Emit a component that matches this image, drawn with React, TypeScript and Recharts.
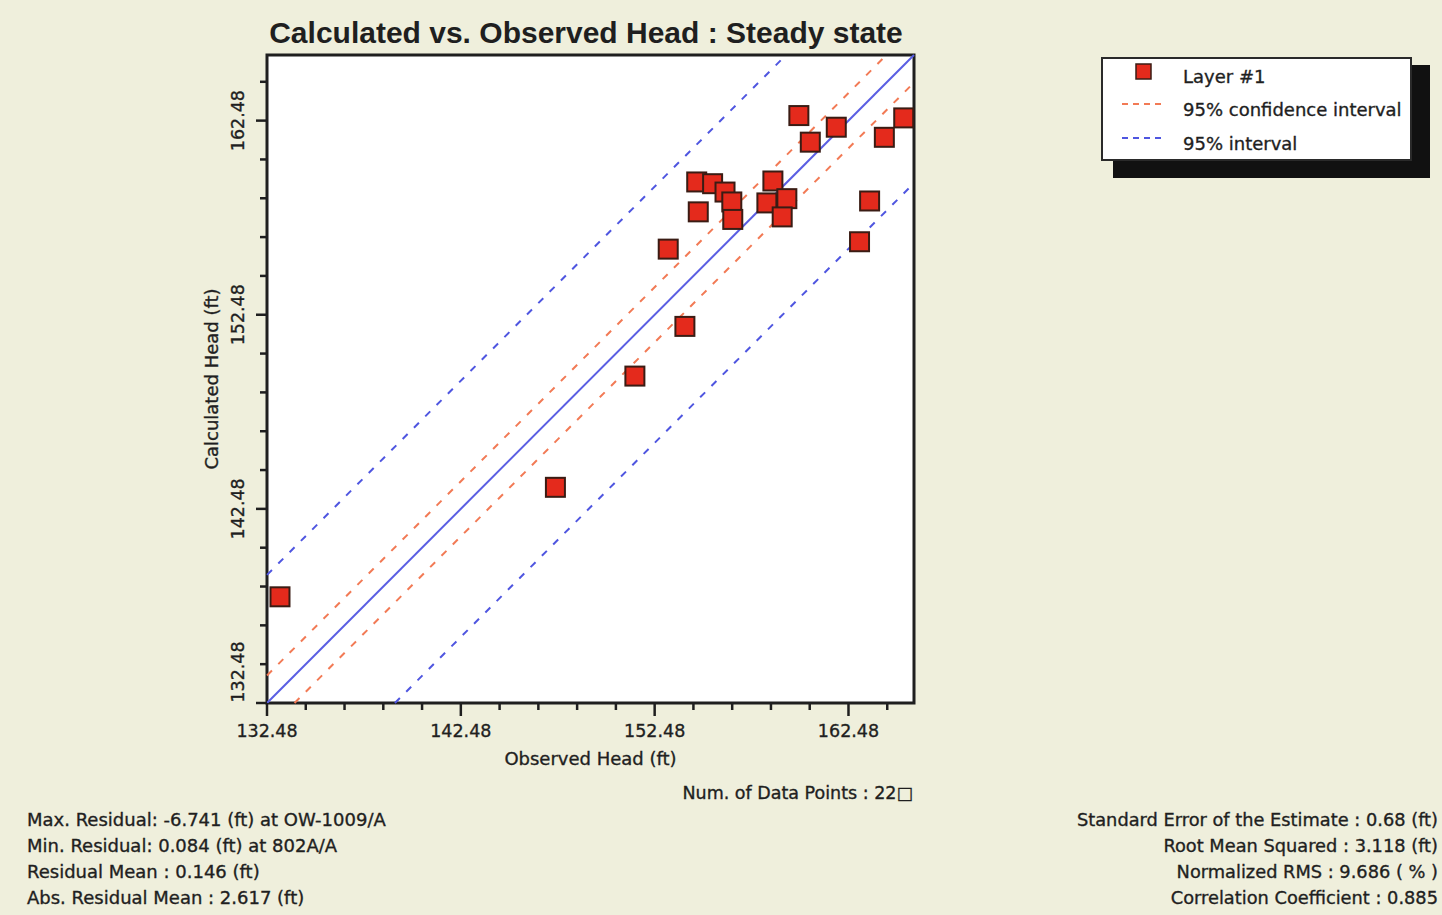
import React from 'react';
import { ScatterChart, Scatter, XAxis, YAxis, ReferenceLine, ReferenceArea } from 'recharts';

const AXIS_MIN = 132.48;
const AXIS_MAX = 165.86;
const AXIS_TICKS = [132.48, 134.48, 136.48, 138.48, 140.48, 142.48, 144.48, 146.48, 148.48, 150.48, 152.48, 154.48, 156.48, 158.48, 160.48, 162.48, 164.48];
const MAJOR_TICKS = [132.48, 142.48, 152.48, 162.48];

const observedHead = [133.15, 147.36, 151.46, 154.04, 153.18, 154.65, 154.73, 155.47, 156.11, 156.46, 156.51, 158.27, 158.58, 159.30, 159.06, 159.92, 160.51, 161.85, 163.05, 163.57, 164.33, 165.33];
const calculatedHead = [137.95, 143.59, 149.32, 151.88, 155.86, 159.32, 157.78, 159.23, 158.80, 158.29, 157.39, 158.24, 159.37, 158.46, 157.52, 162.74, 161.37, 162.14, 156.24, 158.34, 161.62, 162.62];

const CONFIDENCE_HALF_WIDTH = 1.42;
const INTERVAL_HALF_WIDTH = 6.6;

const TITLE = 'Calculated vs. Observed Head : Steady state';
const X_TITLE = 'Observed Head (ft)';
const Y_TITLE = 'Calculated Head (ft)';
const SERIES_NAME = 'Layer #1';
const CONF_NAME = '95% confidence interval';
const INTERVAL_NAME = '95% interval';
const NUM_POINTS_TEXT = 'Num. of Data Points : 22\u25A1';
const LEFT_STATS = [
  'Max. Residual: -6.741 (ft) at OW-1009/A',
  'Min. Residual: 0.084 (ft) at 802A/A',
  'Residual Mean : 0.146 (ft)',
  'Abs. Residual Mean : 2.617 (ft)',
];
const RIGHT_STATS = [
  'Standard Error of the Estimate : 0.68 (ft)',
  'Root Mean Squared : 3.118 (ft)',
  'Normalized RMS : 9.686 ( % )',
  'Correlation Coefficient : 0.885',
];

const BG = '#efefdc';
const INK = '#1f1f1f';
const MARKER_FILL = '#e42a1c';
const MARKER_STROKE = '#3a1c14';
const LINE_BLUE = '#5a5ee3';
const DASH_BLUE = '#4f56e0';
const DASH_RED = '#f27a55';
const SMALL_FONT = '"DejaVu Sans", sans-serif';
const TITLE_FONT = '"Liberation Sans", Arial, sans-serif';
const TEXT_WEIGHT = { stroke: INK, strokeWidth: 0.35 };

const data = observedHead.map((o, i) => ({ observed: o, calculated: calculatedHead[i] }));

const isMajor = (v: number) => MAJOR_TICKS.some((m) => Math.abs(m - v) < 1e-6);

const XTick = (props: any) => {
  const { x, y, payload } = props;
  const major = isMajor(payload.value);
  return (
    <g>
      <line x1={x} x2={x} y1={y} y2={y + (major ? 13 : 7)} stroke={INK} strokeWidth={2.5} />
      {major && (
        <text x={x} y={y + 28} textAnchor="middle" dominantBaseline="central" fontFamily={SMALL_FONT} fontSize={17.5} fill={INK} {...TEXT_WEIGHT}>
          {payload.value.toFixed(2)}
        </text>
      )}
    </g>
  );
};

const YTick = (props: any) => {
  const { x, y, payload, index } = props;
  const major = isMajor(payload.value);
  const ly = index === 0 ? y - 31 : y;
  const lx = x - 29;
  return (
    <g>
      <line x1={x - (major ? 11 : 7)} x2={x} y1={y} y2={y} stroke={INK} strokeWidth={2.5} />
      {major && (
        <text
          x={lx}
          y={ly}
          transform={`rotate(-90, ${lx}, ${ly})`}
          textAnchor="middle"
          dominantBaseline="central"
          fontFamily={SMALL_FONT}
          fontSize={17.5}
          fill={INK}
          {...TEXT_WEIGHT}
        >
          {payload.value.toFixed(2)}
        </text>
      )}
    </g>
  );
};

const SquareMarker = (props: any) => {
  const { cx, cy } = props;
  return <rect x={cx - 9.5} y={cy - 9.5} width={19} height={19} fill={MARKER_FILL} stroke={MARKER_STROKE} strokeWidth={2} />;
};

const XTitle = (props: any) => {
  const vb = props.viewBox || {};
  return (
    <text x={vb.x + vb.width / 2} y={vb.y + 55} textAnchor="middle" dominantBaseline="central" fontFamily={SMALL_FONT} fontSize={18} fill={INK} {...TEXT_WEIGHT}>
      {X_TITLE}
    </text>
  );
};

const YTitle = (props: any) => {
  const vb = props.viewBox || {};
  const cx = 211;
  const cy = vb.y + vb.height / 2;
  return (
    <text x={cx} y={cy} transform={`rotate(-90, ${cx}, ${cy})`} textAnchor="middle" dominantBaseline="central" fontFamily={SMALL_FONT} fontSize={18} fill={INK} {...TEXT_WEIGHT}>
      {Y_TITLE}
    </text>
  );
};

export default function App() {
  return (
    <div style={{ position: 'absolute', left: 0, top: 0, width: 1442, height: 915, background: BG, overflow: 'hidden' }}>
      <ScatterChart width={1442} height={915} margin={{ top: 55, right: 528, bottom: 0, left: 0 }}>
        <ReferenceArea
          x1={AXIS_MIN}
          x2={AXIS_MAX}
          y1={AXIS_MIN}
          y2={AXIS_MAX}
          fill="#ffffff"
          fillOpacity={1}
          stroke={INK}
          strokeWidth={3}
          ifOverflow="extendDomain"
        />
        <XAxis
          type="number"
          dataKey="observed"
          domain={[AXIS_MIN, AXIS_MAX]}
          ticks={AXIS_TICKS}
          interval={0}
          allowDataOverflow
          height={212}
          axisLine={false}
          tickLine={false}
          tickSize={0}
          tickMargin={0}
          tick={<XTick />}
          label={<XTitle />}
        />
        <YAxis
          type="number"
          dataKey="calculated"
          domain={[AXIS_MIN, AXIS_MAX]}
          ticks={AXIS_TICKS}
          interval={0}
          allowDataOverflow
          width={267}
          axisLine={false}
          tickLine={false}
          tickSize={0}
          tickMargin={0}
          tick={<YTick />}
          label={<YTitle />}
        />
        <ReferenceLine
          segment={[{ x: AXIS_MIN, y: AXIS_MIN + INTERVAL_HALF_WIDTH }, { x: AXIS_MAX - INTERVAL_HALF_WIDTH, y: AXIS_MAX }]}
          stroke={DASH_BLUE}
          strokeWidth={2}
          strokeDasharray="7 9"
        />
        <ReferenceLine
          segment={[{ x: AXIS_MIN + INTERVAL_HALF_WIDTH, y: AXIS_MIN }, { x: AXIS_MAX, y: AXIS_MAX - INTERVAL_HALF_WIDTH }]}
          stroke={DASH_BLUE}
          strokeWidth={2}
          strokeDasharray="7 9"
        />
        <ReferenceLine
          segment={[{ x: AXIS_MIN, y: AXIS_MIN + CONFIDENCE_HALF_WIDTH }, { x: AXIS_MAX - CONFIDENCE_HALF_WIDTH, y: AXIS_MAX }]}
          stroke={DASH_RED}
          strokeWidth={2}
          strokeDasharray="7 9"
        />
        <ReferenceLine
          segment={[{ x: AXIS_MIN + CONFIDENCE_HALF_WIDTH, y: AXIS_MIN }, { x: AXIS_MAX, y: AXIS_MAX - CONFIDENCE_HALF_WIDTH }]}
          stroke={DASH_RED}
          strokeWidth={2}
          strokeDasharray="7 9"
        />
        <ReferenceLine
          segment={[{ x: AXIS_MIN, y: AXIS_MIN }, { x: AXIS_MAX, y: AXIS_MAX }]}
          stroke={LINE_BLUE}
          strokeWidth={2}
        />
        <Scatter name={SERIES_NAME} data={data} shape={<SquareMarker />} isAnimationActive={false} />
      </ScatterChart>

      <svg width={1442} height={915} style={{ position: 'absolute', left: 0, top: 0, pointerEvents: 'none' }}>
        <text x={586} y={43} textAnchor="middle" fontFamily={TITLE_FONT} fontWeight="bold" fontSize={30} fill={INK}>
          {TITLE}
        </text>

        <text x={913} y={793} textAnchor="end" dominantBaseline="central" fontFamily={SMALL_FONT} fontSize={17.5} fill={INK} {...TEXT_WEIGHT}>
          {NUM_POINTS_TEXT}
        </text>

        {LEFT_STATS.map((s, i) => (
          <text key={'l' + i} x={27} y={819 + i * 26} dominantBaseline="central" fontFamily={SMALL_FONT} fontSize={18} fill={INK} {...TEXT_WEIGHT}>
            {s}
          </text>
        ))}
        {RIGHT_STATS.map((s, i) => (
          <text key={'r' + i} x={1438} y={819 + i * 26} textAnchor="end" dominantBaseline="central" fontFamily={SMALL_FONT} fontSize={17.8} fill={INK} {...TEXT_WEIGHT}>
            {s}
          </text>
        ))}

        <rect x={1113} y={65} width={317} height={113} fill="#111111" />
        <rect x={1102} y={58} width={309} height={102} fill="#ffffff" stroke="#2a2a2a" strokeWidth={2} />
        <rect x={1136} y={64} width={15} height={15} fill={MARKER_FILL} stroke={MARKER_STROKE} strokeWidth={1.5} />
        <text x={1183} y={76} dominantBaseline="central" fontFamily={SMALL_FONT} fontSize={18} fill={INK} {...TEXT_WEIGHT}>
          {SERIES_NAME}
        </text>
        <line x1={1122} x2={1163} y1={104} y2={104} stroke={DASH_RED} strokeWidth={2} strokeDasharray="6 5" />
        <text x={1183} y={109} dominantBaseline="central" fontFamily={SMALL_FONT} fontSize={18} fill={INK} {...TEXT_WEIGHT}>
          {CONF_NAME}
        </text>
        <line x1={1122} x2={1163} y1={138} y2={138} stroke={DASH_BLUE} strokeWidth={2} strokeDasharray="6 5" />
        <text x={1183} y={143} dominantBaseline="central" fontFamily={SMALL_FONT} fontSize={18} fill={INK} {...TEXT_WEIGHT}>
          {INTERVAL_NAME}
        </text>
      </svg>
    </div>
  );
}
